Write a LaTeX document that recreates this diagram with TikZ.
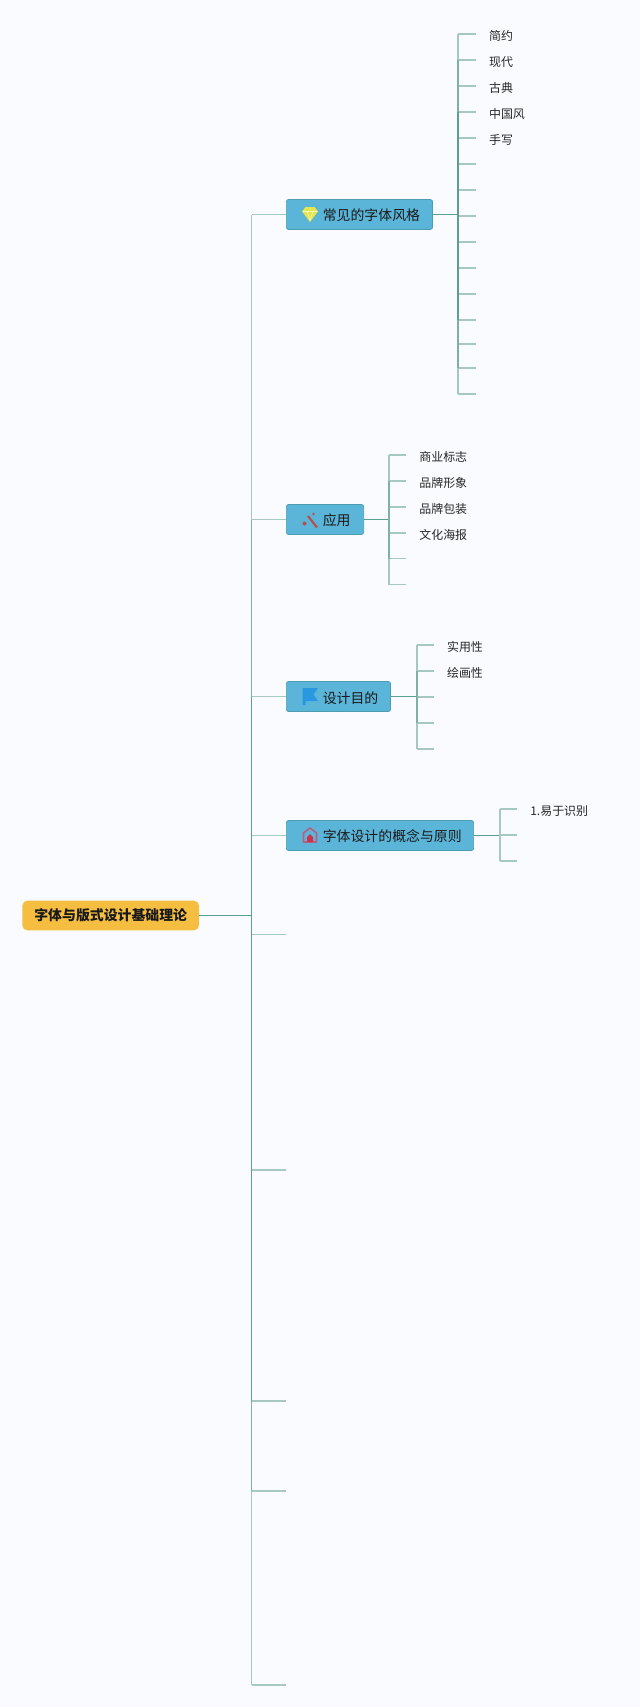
\documentclass[tikz,border=0pt]{standalone}
\usepackage{fontspec}
\usepackage{xcolor}
\setmainfont{Noto Sans CJK SC}
\definecolor{pagebg}{HTML}{F9FBFF}
\definecolor{linkdark}{HTML}{5C9E94}
\definecolor{linkmid}{HTML}{7DB0A7}
\definecolor{linklight}{HTML}{A6C8C2}
\definecolor{mainfill}{HTML}{5AB5D8}
\definecolor{mainedge}{HTML}{4C9DB0}
\definecolor{rootfill}{HTML}{F5BE41}
\definecolor{gemfill}{HTML}{E4E650}
\definecolor{wandred}{HTML}{B5504A}
\definecolor{flagblue}{HTML}{2A98E0}
\definecolor{houseedge}{HTML}{B8607F}
\definecolor{housedoor}{HTML}{D0304A}
\newcommand{\iconGem}[2]{%
    \fill[gemfill] (#1-8,#2-3) -- (#1-4.5,#2-7.5) -- (#1+4.5,#2-7.5) -- (#1+8,#2-3) -- (#1,#2+7.5) -- cycle;
    \draw[white!60!gemfill, line width=0.3pt] (#1-7,#2-3) -- (#1+7,#2-3);
    \draw[white!60!gemfill, line width=0.3pt] (#1-3,#2-3) -- (#1,#2+6) -- (#1+3,#2-3);
}
\newcommand{\iconWand}[2]{%
    \draw[wandred, line width=1.2pt] (#1-2,#2-4) -- (#1+7,#2+7.5);
    \fill[wandred] (#1+3.5,#2-6) circle (1.3);
    \fill[wandred] (#1-5.5,#2+3.5) circle (2);
}
\newcommand{\iconFlag}[2]{%
    \fill[flagblue] (#1-7.5,#2-8.5) -- (#1+8,#2-8.5) -- (#1+3.5,#2-2) -- (#1+8,#2+4.5) -- (#1-4.5,#2+4.5) -- (#1-4.5,#2+8.5) -- (#1-7.5,#2+8.5) -- cycle;
}
\newcommand{\iconHouse}[2]{%
    \draw[houseedge, line width=0.9pt, line join=round] (#1-6.5,#2+7) -- (#1-6.5,#2-2) -- (#1,#2-7) -- (#1+6.5,#2-2) -- (#1+6.5,#2+7) -- cycle;
    \fill[housedoor] (#1-3,#2+7) -- (#1-3,#2+2) -- (#1,#2-1) -- (#1+3,#2+2) -- (#1+3,#2+7) -- cycle;
}
\tikzset{
    rootbox/.style={fill=rootfill, rounded corners=3pt, minimum height=17pt, minimum width=100.6pt, inner sep=0pt, font=\fontsize{7.9pt}{9pt}\selectfont\bfseries, text=black!90},
    mainbox/.style={fill=mainfill, draw=mainedge, line width=0.4pt, rounded corners=1.2pt, minimum height=17pt, inner sep=0pt, anchor=west},
    maintext/.style={font=\fontsize{7.9pt}{9pt}\selectfont, text=black!90, inner sep=0pt, anchor=west},
    leaftext/.style={font=\fontsize{6.8pt}{8pt}\selectfont, text=black!85, inner ysep=0pt, inner xsep=7.4pt, anchor=west, text height=7.4pt, text depth=0.2pt},
    dark/.style={draw=linkdark, line width=1.1pt},
    mid/.style={draw=linkmid, line width=1.05pt},
    light/.style={draw=linklight, line width=1pt},
}
\begin{document}
\begin{tikzpicture}[x=0.02cm, y=-0.02cm]
    \fill[pagebg] (0,0) rectangle (640,1707);
    \useasboundingbox (0,0) rectangle (640,1707);

    % central node and the long spine
    \node[rootbox] (root) at (110.7,915.5) {字体与版式设计基础理论};
    \coordinate (hub) at (251.5,915.5);
    \draw[dark] (root) -- (hub);

    \node[mainbox, minimum width=83.2pt] (mainA) at (286,214.5) {};
    \node[mainbox, minimum width=44pt] (mainB) at (286,519.5) {};
    \node[mainbox, minimum width=59.3pt] (mainC) at (286,696.5) {};
    \node[mainbox, minimum width=106.6pt] (mainD) at (286,835.5) {};
    \node[maintext] (textA) at (322.5,215) {常见的字体风格};
    \node[maintext] (textB) at (322.5,520.5) {应用};
    \node[maintext] (textC) at (322.5,698) {设计目的};
    \node[maintext] (textD) at (322.5,836) {字体设计的概念与原则};
    \iconGem{310}{214.5}
    \iconWand{310}{520}
    \iconFlag{310}{696.5}
    \iconHouse{310}{835}

    \coordinate (spineA) at (251.5,214.5);
    \coordinate (spineB) at (251.5,519.5);
    \coordinate (spineC) at (251.5,696.5);
    \coordinate (spineD) at (251.5,835.5);
    \foreach \n/\y in {E/934.5, F/1170, G/1401, H/1491, I/1685} {
        \coordinate (spine\n) at (251.5,\y);
        \coordinate (main\n) at (286,\y);
    }
    \foreach \n in {A,B,C,D} {
        \draw[light] (spine\n) -- (main\n.west);
    }
    \foreach \n in {E,F,G,H,I} {
        \draw[light] (spine\n) -- (main\n);
    }
    \draw[light] (spineA) -- (spineB);
    \draw[mid] (spineB) -- (spineC);
    \draw[dark] (spineC) -- (spineD) -- (hub) -- (spineE) -- (spineF) -- (spineG);
    \draw[mid] (spineG) -- (spineH);
    \draw[light] (spineH) -- (spineI);

    % first group of leaves
    \coordinate (forkA) at (458,214.5);
    \draw[dark] (mainA.east) -- (forkA);
    \foreach \i/\y/\t in {1/34/简约, 2/60/现代, 3/86/古典, 4/112/中国风, 5/138/手写, 6/164/, 7/190/, 8/216/,
        9/242/, 10/268/, 11/294/, 12/320/, 13/344/, 14/368/, 15/394/} {
        \coordinate (stemA\i) at (458,\y);
        \node[leaftext] (leafA\i) at (475.7,\y) {\t};
        \draw[light] (stemA\i) -- (leafA\i.west);
    }
    \draw[light] (stemA1) -- (stemA2);
    \draw[mid] (stemA2) -- (stemA4);
    \draw[dark] (stemA4) -- (stemA12);
    \draw[mid] (stemA12) -- (stemA14);
    \draw[light] (stemA14) -- (stemA15);

    % second group of leaves
    \coordinate (forkB) at (389,519.5);
    \draw[dark] (mainB.east) -- (forkB);
    \foreach \i/\y/\t in {1/454.7/商业标志, 2/480.7/品牌形象, 3/506.7/品牌包装, 4/532.7/文化海报, 5/558.5/, 6/584.5/} {
        \coordinate (stemB\i) at (389,\y);
        \node[leaftext] (leafB\i) at (406,\y) {\t};
        \draw[light] (stemB\i) -- (leafB\i.west);
    }
    \draw[light] (stemB1) -- (stemB2);
    \draw[mid] (stemB2) -- (stemB5);
    \draw[light] (stemB5) -- (stemB6);

    % third group of leaves
    \coordinate (forkC) at (416.7,696.5);
    \draw[dark] (mainC.east) -- (forkC);
    \foreach \i/\y/\t in {1/644.7/实用性, 2/670.7/绘画性, 3/696.7/, 4/722.7/, 5/748.7/} {
        \coordinate (stemC\i) at (416.7,\y);
        \node[leaftext] (leafC\i) at (433.7,\y) {\t};
        \draw[light] (stemC\i) -- (leafC\i.west);
    }
    \draw[light] (stemC1) -- (stemC2);
    \draw[mid] (stemC2) -- (stemC4);
    \draw[light] (stemC4) -- (stemC5);

    % fourth group of leaves
    \coordinate (forkD) at (500,835.5);
    \draw[dark] (mainD.east) -- (forkD);
    \foreach \i/\y/\t in {1/809/1.易于识别, 2/835/, 3/861/} {
        \coordinate (stemD\i) at (500,\y);
        \node[leaftext] (leafD\i) at (517,\y) {\t};
        \draw[light] (stemD\i) -- (leafD\i.west);
    }
    \draw[light] (stemD1) -- (stemD3);
\end{tikzpicture}
\end{document}
